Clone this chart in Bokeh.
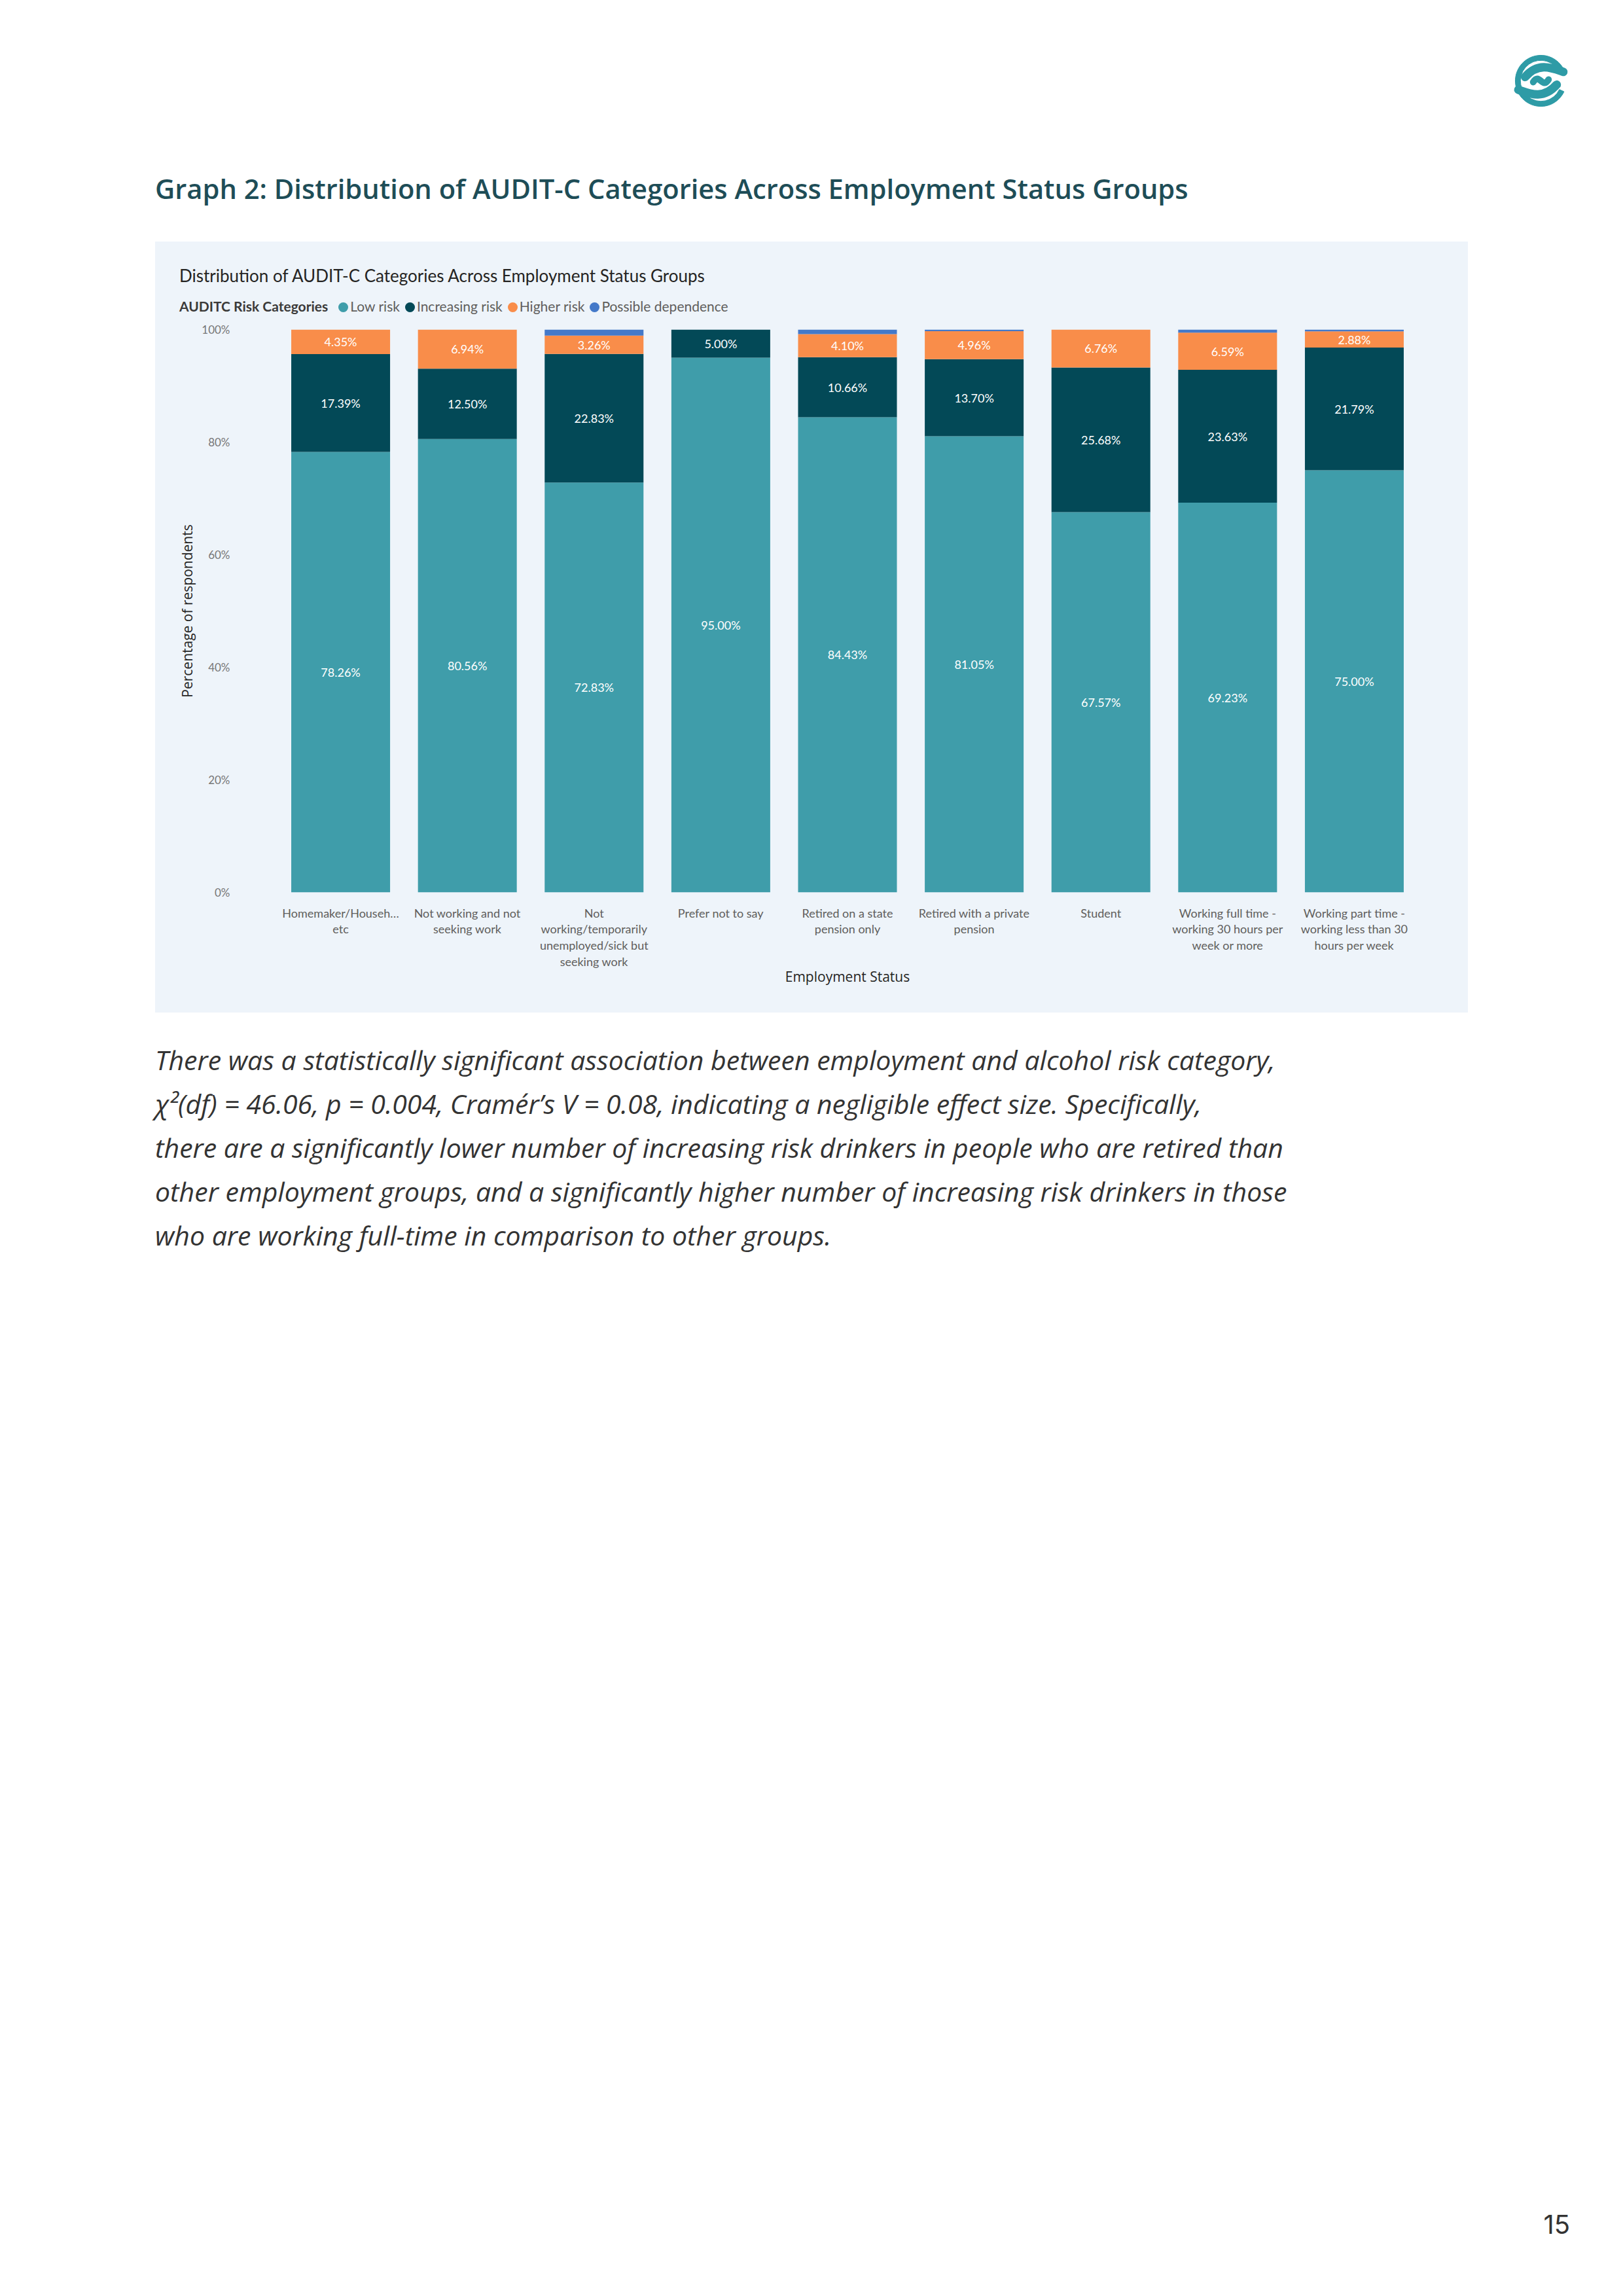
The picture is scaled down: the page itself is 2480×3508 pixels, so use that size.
import math
from bokeh.plotting import figure
from bokeh.models import (ColumnDataSource, FactorRange, Range1d, FixedTicker,
                          PrintfTickFormatter, Div, Spacer)
from bokeh.layouts import column, row
from bokeh.core.properties import value
from bokeh.embed import file_html
from bokeh.resources import INLINE

# ---------------- data ----------------
categories = [
    "Homemaker/Househ…\netc",
    "Not working and not\nseeking work",
    "Not\nworking/temporarily\nunemployed/sick but\nseeking work",
    "Prefer not to say",
    "Retired on a state\npension only",
    "Retired with a private\npension",
    "Student",
    "Working full time -\nworking 30 hours per\nweek or more",
    "Working part time -\nworking less than 30\nhours per week",
]
risk_levels = ["Low risk", "Increasing risk", "Higher risk", "Possible dependence"]
low_risk = [78.26, 80.56, 72.83, 95.00, 84.43, 81.05, 67.57, 69.23, 75.00]
increasing_risk = [17.39, 12.50, 22.83, 5.00, 10.66, 13.70, 25.68, 23.63, 21.79]
higher_risk = [4.35, 6.94, 3.26, 0.00, 4.10, 4.96, 6.76, 6.59, 2.88]
possible_dependence = [0.00, 0.00, 1.08, 0.00, 0.81, 0.29, 0.00, 0.55, 0.33]
y_ticks = [0, 20, 40, 60, 80, 100]

page_title = "Graph 2: Distribution of AUDIT-C Categories Across Employment Status Groups"
chart_title = "Distribution of AUDIT-C Categories Across Employment Status Groups"
legend_title = "AUDITC Risk Categories"
x_title = "Employment Status"
y_title = "Percentage of respondents"
paragraph_lines = [
    "There was a statistically significant association between employment and alcohol risk category,",
    "χ²(df) = 46.06, p = 0.004, Cramér’s V = 0.08, indicating a negligible effect size. Specifically,",
    "there are a significantly lower number of increasing risk drinkers in people who are retired than",
    "other employment groups, and a significantly higher number of increasing risk drinkers in those",
    "who are working full-time in comparison to other groups.",
]
page_number = "15"

# ---------------- styles ----------------
colors = ["#3F9DAA", "#034957", "#F98D4A", "#4479C9"]
PANEL = "#EEF4FA"
LOGO = "#2E9BA6"

# ---------------- chart ----------------
keys = ["low", "inc", "high", "pd"]
series = [low_risk, increasing_risk, higher_risk, possible_dependence]
src = ColumnDataSource(dict(cat=categories, low=low_risk, inc=increasing_risk,
                            high=higher_risk, pd=possible_dependence))

lx, ly, lt = [], [], []
for i, c in enumerate(categories):
    base = 0.0
    for s_idx, s in enumerate(series):
        v = s[i]
        if s_idx < 3 and v >= 2:
            lx.append(c)
            ly.append(base + v / 2)
            lt.append(f"{v:.2f}%")
        base += v
lab_src = ColumnDataSource(dict(x=lx, y=ly, t=lt))

p = figure(x_range=FactorRange(factors=categories, range_padding=0.275,
                               range_padding_units="absolute"),
           y_range=Range1d(0, 100), width=2006, height=1058,
           output_backend="svg", toolbar_location=None,
           min_border_left=133, min_border_right=24, min_border_top=14,
           min_border_bottom=184, background_fill_color=PANEL,
           border_fill_color=PANEL, outline_line_color=None)

p.vbar_stack(keys, x="cat", width=0.78, fill_color=colors, line_color=None,
             source=src)
p.text(x="x", y="y", text="t", source=lab_src, text_color="white",
       text_align="center", text_baseline="middle",
       text_font=value("Lato"), text_font_size="18px")

p.xgrid.visible = False
p.ygrid.visible = False
for ax in (p.xaxis[0], p.yaxis[0]):
    ax.axis_line_color = None
    ax.major_tick_line_color = None
    ax.minor_tick_line_color = None
    ax.major_tick_out = 0
    ax.major_tick_in = 0
    ax.major_label_text_font = "Lato"
    ax.axis_label_text_font = "Open Sans"
    ax.axis_label_text_font_style = "normal"
    ax.axis_label_text_color = "#252423"

p.yaxis.ticker = FixedTicker(ticks=y_ticks)
p.yaxis.formatter = PrintfTickFormatter(format="%d%%")
p.yaxis.major_label_text_font_size = "17px"
p.yaxis.major_label_text_color = "#777777"
p.yaxis.major_label_standoff = 19
p.yaxis.axis_label = y_title
p.yaxis.axis_label_text_font_size = "21px"
p.yaxis.axis_label_standoff = 5

p.xaxis.major_label_text_font_size = "18px"
p.xaxis.major_label_text_color = "#605E5C"
p.xaxis.major_label_text_line_height = 1.13
p.xaxis.major_label_standoff = 20
p.xaxis.axis_label = x_title
p.xaxis.axis_label_text_font_size = "21px"
p.xaxis.axis_label_standoff = -5

# ---------------- panel header (title + legend) ----------------
legend_items = "".join(
    f'<span style="display:inline-block;width:15px;height:15px;border-radius:50%;'
    f'background:{c};margin:0 3px 0 8px;vertical-align:-1px"></span><span>{name}</span>'
    for name, c in zip(risk_levels, colors))
header_div = Div(width=2006, height=120, margin=(0, 0, 0, 0), text=f'''
<div style="position:relative;width:2006px;height:120px;background:{PANEL};font-family:Lato;">
<div style="position:absolute;left:37px;top:37px;font-size:26px;line-height:1.2;color:#252423;white-space:nowrap;">{chart_title}</div>
<div style="position:absolute;left:37px;top:86px;font-size:21px;line-height:1.2;color:#605E5C;white-space:nowrap;"><span style="font-weight:700;color:#3B3A39;margin-right:8px">{legend_title}</span>{legend_items}</div>
</div>''')

# ---------------- logo ----------------
logo = figure(width=100, height=100, x_range=Range1d(-1.28, 1.28),
              y_range=Range1d(-1.28, 1.28), output_backend="svg",
              toolbar_location=None, min_border=0, outline_line_color=None,
              background_fill_color="white", border_fill_color="white")
logo.axis.visible = False
logo.grid.visible = False
logo.annular_wedge(x=0, y=0, inner_radius=0.8, outer_radius=1.0,
                   start_angle=math.radians(20), end_angle=math.radians(335),
                   color=LOGO)
logo.bezier(x0=[-0.62, 0.62], y0=[0.15, -0.15], x1=[0.88, -0.88], y1=[0.35, -0.35],
            cx0=[-0.1, 0.1], cy0=[0.75, -0.75], cx1=[0.45, -0.45], cy1=[0.5, -0.5],
            line_color=LOGO, line_width=13, line_cap="round")
logo.bezier(x0=[-0.3], y0=[-0.05], x1=[0.3], y1=[0.05], cx0=[-0.05], cy0=[0.35],
            cx1=[0.05], cy1=[-0.35], line_color=LOGO, line_width=10, line_cap="round")

# ---------------- page texts ----------------
title_div = Div(width=2464, height=196, margin=(0, 0, 0, 0), text=(
    f'<div style="padding:90px 0 0 229px;font-family:\'Open Sans\';font-weight:600;'
    f'font-size:41.7px;line-height:1.2;color:#1E4D57;white-space:nowrap;">{page_title}</div>'))

para_div = Div(width=2464, height=400, margin=(0, 0, 0, 0), text=(
    f'<div style="padding:39px 0 0 229px;font-family:\'Open Sans\';font-style:italic;'
    f'font-size:41px;line-height:67px;color:#333333;white-space:nowrap;">'
    + "<br>".join(paragraph_lines) + '</div>'))

page_div = Div(width=2464, height=60, margin=(0, 0, 0, 0), text=(
    f'<div style="width:2391px;text-align:right;font-family:Inter;font-size:40px;'
    f'line-height:48px;color:#333333;">{page_number}</div>'))

panel = column(header_div, p, styles={"background-color": PANEL})

page = column(
    Spacer(width=2464, height=73),
    row(Spacer(width=2296, height=100), logo),
    title_div,
    row(Spacer(width=229, height=1178), panel),
    para_div,
    Spacer(width=10, height=1428),
    page_div,
)
layout = row(Spacer(width=8, height=10), page)

open("out.html", "w").write(file_html(layout, INLINE, title=page_title))
